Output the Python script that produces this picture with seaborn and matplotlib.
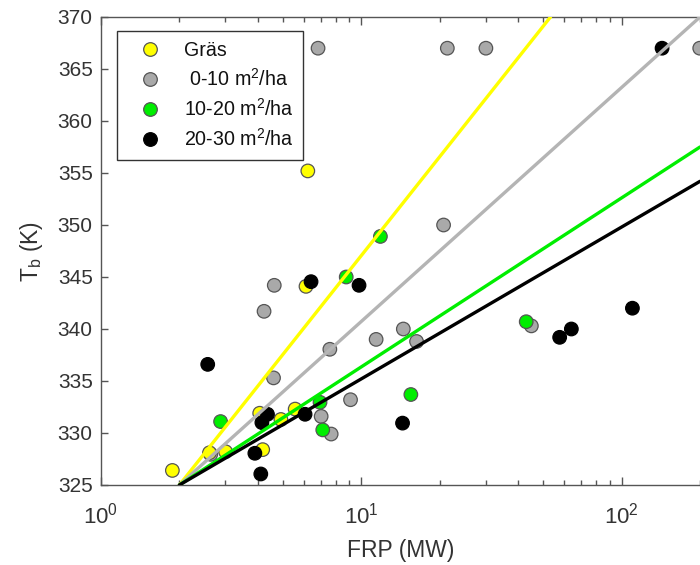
import numpy as np
import pandas as pd
import matplotlib
matplotlib.use("Agg")
import matplotlib.pyplot as plt
import seaborn as sns
from matplotlib.lines import Line2D
from matplotlib.ticker import LogLocator, FixedLocator

sns.set_theme(style="white")
plt.rcParams['font.family'] = ['Liberation Sans', 'DejaVu Sans']
plt.rcParams['mathtext.fontset'] = 'custom'
plt.rcParams['mathtext.rm'] = 'Liberation Sans'
plt.rcParams['mathtext.it'] = 'Liberation Sans:italic'

# ---- data ----
group_names = ["Gräs", "0-10 m$^\\mathregular{2}$/ha", "10-20 m$^\\mathregular{2}$/ha", "20-30 m$^\\mathregular{2}$/ha"]
legend_labels = ["Gräs", " 0-10 m$^\\mathregular{2}$/ha", "10-20 m$^\\mathregular{2}$/ha", "20-30 m$^\\mathregular{2}$/ha"]

gras_frp = [1.88, 2.61, 3.01, 4.18, 4.91, 5.57, 4.07, 6.13, 6.23]
gras_tb = [326.4, 328.1, 328.2, 328.4, 331.3, 332.3, 331.9, 344.1, 355.2]

g010_frp = [6.82, 21.4, 30.1, 199.5, 20.7, 4.63, 4.23, 4.60, 7.57, 11.4, 14.5, 16.3, 45.0, 9.09, 7.01, 7.66, 2.64]
g010_tb = [367.0, 367.0, 367.0, 367.0, 350.0, 344.2, 341.7, 335.3, 338.05, 339.0, 340.0, 338.8, 340.3, 333.2, 331.6, 329.9, 327.95]

g1020_frp = [11.84, 8.75, 2.88, 6.94, 7.11, 15.5, 43.0]
g1020_tb = [348.9, 345.0, 331.1, 332.95, 330.3, 333.7, 340.7]

g2030_frp = [143.0, 6.41, 9.80, 2.57, 4.36, 4.15, 6.08, 3.90, 4.11, 14.4, 57.8, 64.1, 110.0]
g2030_tb = [367.0, 344.55, 344.2, 336.6, 331.8, 331.0, 331.8, 328.05, 326.06, 330.95, 339.2, 340.0, 342.0]

# fitted lines: start and end points
line_frp_start = [2.0, 2.0, 2.0, 2.0]
line_tb_start = [325.0, 325.0, 325.0, 325.0]
line_frp_end = [53.3, 200.0, 200.0, 200.0]
line_tb_end = [370.0, 370.0, 357.5, 354.2]

xticks_major = [1, 10, 100]
yticks = [325, 330, 335, 340, 345, 350, 355, 360, 365, 370]

face_colors = ["#ffff00", "#a9a9a9", "#00ee00", "#000000"]
line_colors = ["#ffff00", "#b4b4b4", "#00ee00", "#000000"]
edge_colors = ["#555555", "#555555", "#555555", "#000000"]

# ---- build tables ----
frames = []
for name, fx, ty in zip(group_names, [gras_frp, g010_frp, g1020_frp, g2030_frp],
                        [gras_tb, g010_tb, g1020_tb, g2030_tb]):
    frames.append(pd.DataFrame({"FRP": fx, "Tb": ty, "grp": name}))
# draw order: gray, yellow, green, black
order_idx = [1, 0, 2, 3]
pts = pd.concat([frames[i] for i in order_idx], ignore_index=True)
ec_map = dict(zip(group_names, edge_colors))
pts["ec"] = pts["grp"].map(ec_map)

lines = pd.DataFrame({
    "FRP": line_frp_start + line_frp_end,
    "Tb": line_tb_start + line_tb_end,
    "grp": group_names + group_names,
})

# ---- figure ----
fig = plt.figure(figsize=(7.0, 5.65), dpi=100)
ax = fig.add_axes([101 / 700, 1 - 485 / 565, 599 / 700, 468 / 565])

sns.scatterplot(data=pts, x="FRP", y="Tb", hue="grp", hue_order=group_names,
                palette=dict(zip(group_names, face_colors)), s=95,
                edgecolor=pts["ec"].tolist(), linewidth=0.9, legend=False,
                ax=ax, zorder=2)
sns.lineplot(data=lines, x="FRP", y="Tb", hue="grp", hue_order=group_names,
             palette=dict(zip(group_names, line_colors)), linewidth=2.4,
             legend=False, ax=ax, zorder=3, estimator=None, sort=True)

ax.set_xscale("log")
ax.set_xlim(1, 200)
ax.set_ylim(325, 370)
ax.set_yticks(yticks)
ax.xaxis.set_major_locator(FixedLocator(xticks_major))
ax.xaxis.set_minor_locator(LogLocator(base=10, subs=np.arange(2, 10)))

spine_c = "#555555"
for side in ["left", "bottom", "top"]:
    ax.spines[side].set_visible(True)
    ax.spines[side].set_color(spine_c)
    ax.spines[side].set_linewidth(1.0)
ax.spines["right"].set_visible(False)

ax.tick_params(axis="both", which="major", direction="in", length=5, width=1,
               color=spine_c, labelcolor="#333333", labelsize=15)
ax.tick_params(axis="x", which="major", top=True, bottom=True, length=6, pad=13,
               labelsize=16)
ax.tick_params(axis="x", which="minor", direction="in", top=True, bottom=True,
               length=3.5, width=1, color=spine_c)
ax.tick_params(axis="y", which="major", left=True, right=False, pad=6)

ax.set_xlabel("FRP (MW)", fontsize=16.5, color="#333333", labelpad=7)
ax.set_ylabel("T$_\\mathregular{b}$ (K)", fontsize=16.5, color="#333333", labelpad=9)
ax.grid(False)

handles = [Line2D([0], [0], marker="o", linestyle="none", markersize=9.8,
                  markerfacecolor=fc, markeredgecolor=ec, markeredgewidth=0.9)
           for fc, ec in zip(face_colors, edge_colors)]
leg = ax.legend(handles, legend_labels, loc="upper left",
                bbox_to_anchor=(16 / 599, 1 - 14 / 468), fontsize=14.1,
                frameon=True, fancybox=False, edgecolor="#000000",
                borderpad=0.5, labelspacing=0.42, handletextpad=0.55,
                handlelength=2.35, borderaxespad=0)
leg.get_frame().set_linewidth(1.0)
for t in leg.get_texts():
    t.set_color("#111111")

fig.savefig("out.png", dpi=100)
